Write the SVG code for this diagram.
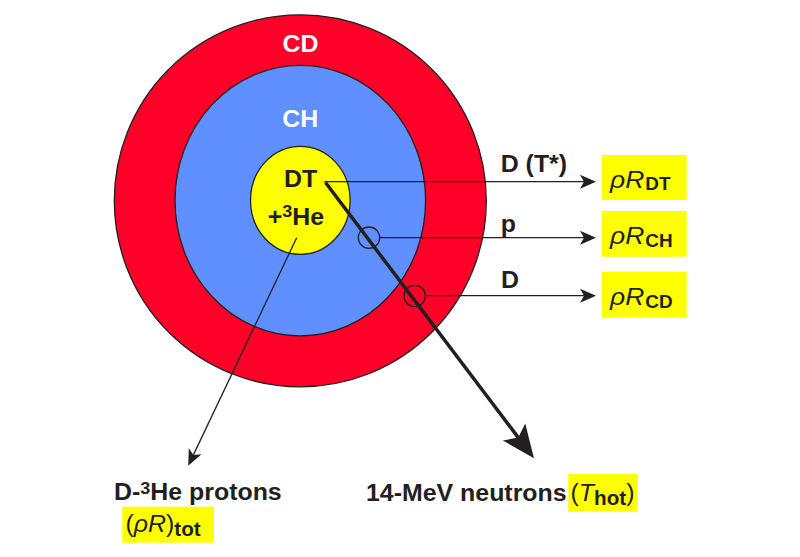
<svg xmlns="http://www.w3.org/2000/svg" width="800" height="557" viewBox="0 0 800 557">
<style>
.t{font-family:"Liberation Sans",Arial,Helvetica,sans-serif;font-weight:bold;font-size:23.5px;fill:#231f20}
.w{fill:#ffffff}
.it{font-style:italic;font-weight:normal}
.rg{font-weight:normal}
.box{fill:#ffff00}
.shell{stroke:#231f20;stroke-width:1.3}
.ln{fill:none;stroke:#231f20;stroke-width:1.3}
.thick{fill:none;stroke:#231f20;stroke-width:3.5}
</style>
<defs>
<marker id="arr" markerUnits="userSpaceOnUse" markerWidth="16" markerHeight="14" refX="4" refY="7" orient="auto" overflow="visible">
<path d="M16,7 L0,0 L4,7 L0,14 Z" fill="#231f20"/>
</marker>
<marker id="arrN" markerUnits="userSpaceOnUse" markerWidth="33" markerHeight="28" refX="7" refY="14" orient="auto" overflow="visible">
<path d="M33,14 L0,0 L7,14 L0,28 Z" fill="#231f20"/>
</marker>
</defs>
<rect width="800" height="557" fill="#ffffff"/>
<g id="shell-cd">
<circle class="shell" cx="300.3" cy="200.8" r="186" fill="#ff0028"/>
<text class="t w" text-anchor="middle" transform="translate(300.5,52) scale(1.06,1)">CD</text>
</g>
<g id="shell-ch">
<ellipse class="shell" cx="300.3" cy="200.6" rx="125.3" ry="135.3" fill="#6090ff"/>
<text class="t w" text-anchor="middle" transform="translate(300.2,127) scale(1.06,1)">CH</text>
</g>
<g id="core-dt">
<ellipse class="shell" cx="300.3" cy="200.3" rx="49.8" ry="54" fill="#ffff00"/>
<text class="t" text-anchor="middle" transform="translate(300.5,186.7) scale(1.06,1)">DT</text>
<text class="t" text-anchor="middle" transform="translate(296,225) scale(1.06,1)">+<tspan font-size="17" dy="-8">3</tspan><tspan dy="8">He</tspan></text>
</g>
<g id="connectors">
<path class="ln" d="M324.3,181.7 H584" marker-end="url(#arr)"/>
<circle class="ln" cx="369" cy="237.7" r="10.7"/>
<path class="ln" d="M380,237.7 H584" marker-end="url(#arr)"/>
<circle class="ln" cx="414.7" cy="296" r="10.7"/>
<path class="ln" d="M425.5,295.7 H584" marker-end="url(#arr)"/>
<path class="ln" d="M296.7,237.7 L193.4,454.9" marker-end="url(#arr)"/>
<path class="thick" d="M325.5,182.5 L518.3,437.6" marker-end="url(#arrN)"/>
</g>
<g id="labels">
<text class="t" transform="translate(500.7,171.7) scale(1.06,1)">D (T*)</text>
<text class="t" transform="translate(500.7,231.7) scale(1.06,1)">p</text>
<text class="t" transform="translate(501,288.3) scale(1.06,1)">D</text>
</g>
<g id="out-rhoR-DT">
<rect class="box" x="601.7" y="155" width="85" height="45"/>
<text class="t" transform="translate(610,187.7) scale(1.08,1)"><tspan class="it" font-size="24.5">ρR</tspan><tspan font-size="17.5" dx="1" dy="2.5">DT</tspan></text>
</g>
<g id="out-rhoR-CH">
<rect class="box" x="601.7" y="211" width="85" height="45.7"/>
<text class="t" transform="translate(610,244) scale(1.08,1)"><tspan class="it" font-size="24.5">ρR</tspan><tspan font-size="17.5" dx="1" dy="2.5">CH</tspan></text>
</g>
<g id="out-rhoR-CD">
<rect class="box" x="601.7" y="271.7" width="85" height="46"/>
<text class="t" transform="translate(610,305) scale(1.08,1)"><tspan class="it" font-size="24.5">ρR</tspan><tspan font-size="17.5" dx="1" dy="2.5">CD</tspan></text>
</g>
<g id="out-protons">
<text class="t" transform="translate(114,500) scale(1.06,1)">D-<tspan font-size="17" dy="-6">3</tspan><tspan dy="6">He protons</tspan></text>
<rect class="box" x="122.3" y="506.7" width="91.7" height="36"/>
<text class="t" transform="translate(125.5,531.7) scale(1.06,1)"><tspan class="rg">(</tspan><tspan class="it">ρR</tspan><tspan class="rg">)</tspan><tspan font-size="19.5" dy="4.3">tot</tspan></text>
</g>
<g id="out-neutrons">
<text class="t" transform="translate(366,500.7) scale(1.06,1)">14-MeV neutrons</text>
<rect class="box" x="568.3" y="474" width="69.4" height="37.7"/>
<text class="t" transform="translate(570.5,500.7) scale(1.06,1)"><tspan class="rg">(</tspan><tspan class="it">T</tspan><tspan font-size="19.5" dy="4.3">hot</tspan><tspan class="rg" dy="-4.3">)</tspan></text>
</g>
</svg>
